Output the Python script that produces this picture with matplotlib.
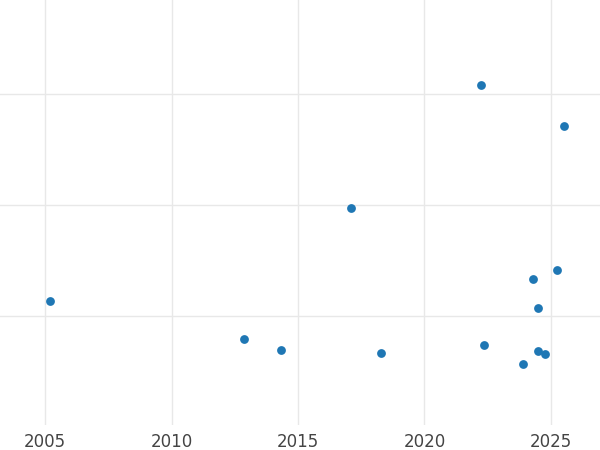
import matplotlib
matplotlib.use("Agg")
import matplotlib.pyplot as plt

years = [2005.20, 2012.87, 2014.33, 2017.09, 2018.28, 2022.23, 2022.35, 2023.89,
         2024.29, 2024.49, 2024.49, 2024.76, 2025.24, 2025.51]
values = [1.135, 0.793, 0.694, 1.973, 0.667, 3.081, 0.739, 0.568,
          1.333, 1.072, 0.685, 0.658, 1.414, 2.712]
xticks = [2005, 2010, 2015, 2020, 2025]
yticks = [1, 2, 3]

fig = plt.figure(figsize=(6, 4.5), dpi=100)
ax = fig.add_axes([0, 0.0556, 1, 0.9444])
ax.scatter(years, values, s=40, color="#1f77b4", zorder=3, linewidths=0)
ax.set_xlim(2003.22, 2026.94)
ax.set_ylim(0.02, 3.85)
ax.set_xticks(xticks)
ax.set_xticklabels([str(t) for t in xticks])
ax.set_yticks(yticks)
ax.set_yticklabels([])
ax.grid(True, color="#e8e8e8", linewidth=1)
ax.tick_params(length=0, labelsize=12, labelcolor="#444444", pad=6)
for s in ax.spines.values():
    s.set_visible(False)
fig.savefig("out.png", dpi=100)
